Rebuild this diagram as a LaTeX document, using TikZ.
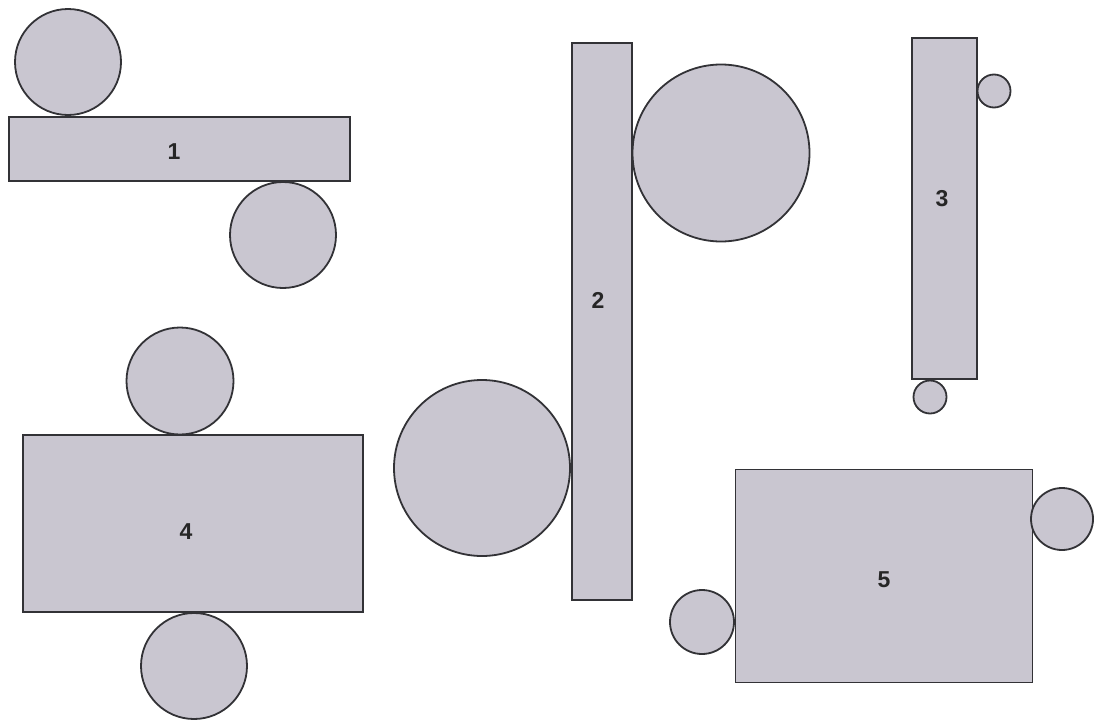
\documentclass[tikz,border=0pt]{standalone}
\usepackage{fontspec}
\setmainfont{Liberation Sans}
\definecolor{shapefill}{RGB}{201,198,208}
\definecolor{shapeline}{RGB}{50,50,54}
\tikzset{
  bar/.style={draw=shapeline, fill=shapefill, line width=1.8pt, rectangle, inner sep=0pt, outer sep=0pt},
  disc/.style={draw=shapeline, fill=shapefill, line width=1.8pt, circle, inner sep=0pt, outer sep=0pt, minimum size=#1},
  num/.style={font=\fontsize{23}{23}\selectfont\bfseries, text=black!85}
}
\begin{document}
\begin{tikzpicture}[x=1pt,y=-1pt]
\fill[white] (0,0) rectangle (1094,720);
\useasboundingbox (0,0) rectangle (1094,720);
% 1
\node[bar, minimum width=341pt, minimum height=64pt] (r1) at (179.5,149) {};
\node[disc=106pt] (c1a) at (68,62) {};
\node[disc=106pt] (c1b) at (283,235) {};
\node[num] (l1) at (174,152) {1};
% 2
\node[bar, minimum width=60pt, minimum height=557pt] (r2) at (602,321.5) {};
\node[disc=177pt] (c2a) at (721,153) {};
\node[disc=176pt] (c2b) at (482,468) {};
\node[num] (l2) at (598,300) {2};
% 3
\node[bar, minimum width=65pt, minimum height=341pt] (r3) at (944.5,208.5) {};
\node[disc=33pt] (c3a) at (994,91) {};
\node[disc=33pt] (c3b) at (930,397) {};
\node[num] (l3) at (942,199) {3};
% 4
\node[bar, minimum width=340pt, minimum height=177pt] (r4) at (193,523.5) {};
\node[disc=107pt] (c4a) at (180,381) {};
\node[disc=106pt] (c4b) at (194,666) {};
\node[num] (l4) at (186,532) {4};
% 5
\node[bar, minimum width=297pt, minimum height=213pt] (r5) at (884,576) {};
\node[disc=62pt] (c5a) at (1062,519) {};
\node[disc=64pt] (c5b) at (702,622) {};
\node[num] (l5) at (884,580) {5};
\end{tikzpicture}
\end{document}
